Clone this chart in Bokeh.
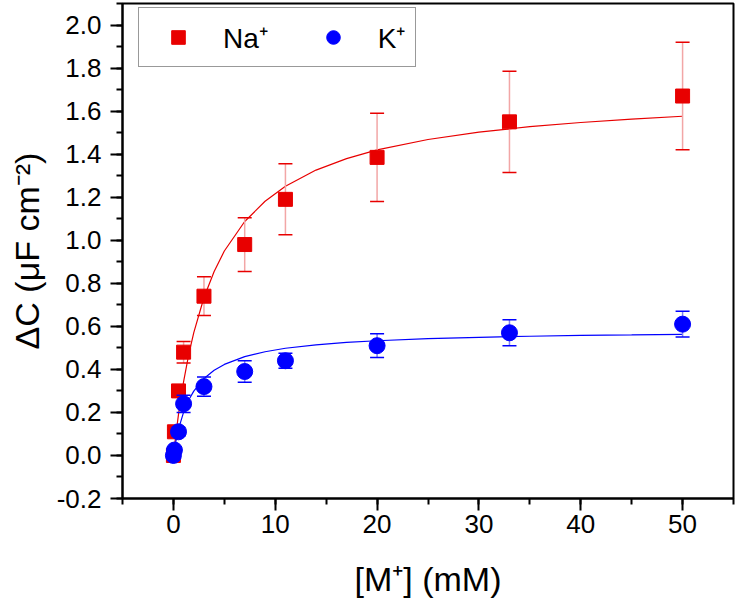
from bokeh.plotting import figure
from bokeh.models import (Range1d, SingleIntervalTicker, NumeralTickFormatter,
                          Legend, LegendItem, ColumnDataSource)
from bokeh.embed import file_html
from bokeh.resources import INLINE

# ---- data ----
conc = [0, 0.1, 0.5, 1, 3, 7, 11, 20, 33, 50]
na_dc = [0.0, 0.11, 0.30, 0.48, 0.74, 0.98, 1.19, 1.385, 1.55, 1.67]
na_err = [0.01, 0.01, 0.02, 0.05, 0.09, 0.125, 0.165, 0.205, 0.235, 0.25]
k_dc = [0.0, 0.025, 0.11, 0.24, 0.32, 0.39, 0.44, 0.51, 0.57, 0.61]
k_err = [0.01, 0.015, 0.02, 0.04, 0.045, 0.05, 0.035, 0.055, 0.06, 0.06]

fit_x = [0, 0.25, 0.5, 1, 1.5, 2, 3, 4, 5, 7, 9, 11, 14, 17, 20, 25, 30, 35, 40, 45, 50]
na_fit = [0.0, 0.101, 0.191, 0.343, 0.468, 0.571, 0.734, 0.855, 0.950, 1.087, 1.181,
          1.251, 1.326, 1.379, 1.420, 1.468, 1.502, 1.528, 1.547, 1.563, 1.576]
k_fit = [0.0, 0.068, 0.122, 0.201, 0.258, 0.299, 0.358, 0.396, 0.423, 0.459, 0.482,
         0.498, 0.514, 0.525, 0.533, 0.543, 0.549, 0.554, 0.558, 0.560, 0.563]

x_ticks_interval = 10
y_ticks_interval = 0.2

RED = "#E80000"
RED_LIGHT = "#F2A6A6"
BLUE = "#0000FF"
BLUE_LIGHT = "#8080F0"
FONT = "Liberation Sans"

na_src = ColumnDataSource(dict(x=conc, y=na_dc,
                               lo=[v - e for v, e in zip(na_dc, na_err)],
                               hi=[v + e for v, e in zip(na_dc, na_err)]))
k_src = ColumnDataSource(dict(x=conc, y=k_dc,
                              lo=[v - e for v, e in zip(k_dc, k_err)],
                              hi=[v + e for v, e in zip(k_dc, k_err)]))

p = figure(width=735, height=600, output_backend="svg", toolbar_location=None,
           x_range=Range1d(-5, 55), y_range=Range1d(-0.2, 2.1),
           min_border_left=122, min_border_right=2, min_border_top=3,
           min_border_bottom=98)
p.background_fill_color = "white"
p.border_fill_color = "white"
p.grid.visible = False
p.outline_line_color = "black"
p.outline_line_width = 2

# fit curves
p.line(fit_x, na_fit, line_color=RED, line_width=1.2)
p.line(fit_x, k_fit, line_color=BLUE, line_width=1.2)

# Na+ error bars and markers
p.segment("x", "lo", "x", "hi", source=na_src, line_color=RED_LIGHT, line_width=1.5)
p.scatter("x", "hi", source=na_src, marker="dash", size=14, line_color=RED, line_width=1.5)
p.scatter("x", "lo", source=na_src, marker="dash", size=14, line_color=RED, line_width=1.5)
na_r = p.scatter("x", "y", source=na_src, marker="square", size=14,
                 fill_color=RED, line_color=RED)

# K+ error bars and markers
p.segment("x", "lo", "x", "hi", source=k_src, line_color=BLUE_LIGHT, line_width=1.5)
p.scatter("x", "hi", source=k_src, marker="dash", size=14, line_color=BLUE, line_width=1.5)
p.scatter("x", "lo", source=k_src, marker="dash", size=14, line_color=BLUE, line_width=1.5)
k_r = p.scatter("x", "y", source=k_src, marker="circle", size=16,
                fill_color=BLUE, line_color=BLUE)

# axes
p.xaxis.ticker = SingleIntervalTicker(interval=x_ticks_interval, num_minor_ticks=2)
p.yaxis.ticker = SingleIntervalTicker(interval=y_ticks_interval, num_minor_ticks=2)
p.yaxis.formatter = NumeralTickFormatter(format="0.0")
for ax in (p.xaxis, p.yaxis):
    ax.axis_line_width = 2
    ax.axis_line_color = "black"
    ax.major_tick_line_width = 2
    ax.minor_tick_line_width = 2
    ax.major_tick_in = 0
    ax.minor_tick_in = 0
    ax.major_tick_out = 12
    ax.minor_tick_out = 6
    ax.major_label_text_font = FONT
    ax.major_label_text_font_size = "26px"
    ax.major_label_text_color = "black"
    ax.axis_label_text_font = FONT
    ax.axis_label_text_font_size = "34px"
    ax.axis_label_text_font_style = "normal"
    ax.axis_label_text_color = "black"

p.xaxis.axis_label = "[M⁺] (mM)"
p.yaxis.axis_label = "ΔC (μF cm⁻²)"
p.xaxis.major_label_standoff = 4
p.xaxis.axis_label_standoff = 24
p.yaxis.major_label_standoff = 9
p.yaxis.axis_label_standoff = 8

legend = Legend(items=[LegendItem(label="Na⁺", renderers=[na_r]),
                       LegendItem(label="K⁺", renderers=[k_r])],
                orientation="horizontal", location=(16, 431))
legend.label_text_font = FONT
legend.label_text_font_size = "28px"
legend.label_text_color = "black"
legend.glyph_width = 58
legend.glyph_height = 34
legend.label_standoff = 16
legend.spacing = 36
legend.padding = 10
legend.margin = 0
legend.border_line_color = "#333333"
legend.border_line_width = 1
legend.background_fill_color = "white"
legend.background_fill_alpha = 1
p.add_layout(legend)

open("out.html", "w").write(file_html(p, INLINE))
